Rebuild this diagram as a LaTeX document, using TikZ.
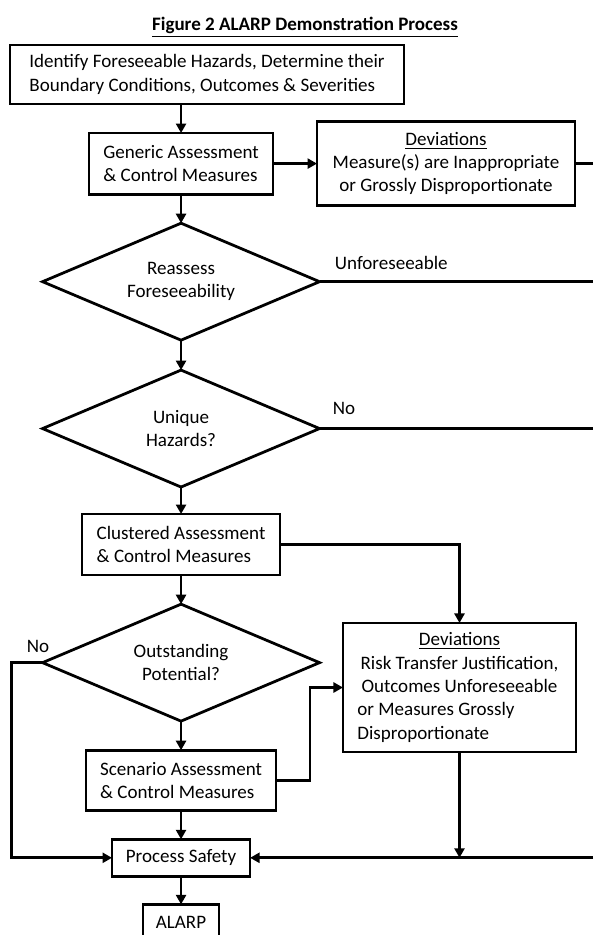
\documentclass[tikz,border=0pt]{standalone}
\usepackage{fontspec}
\setmainfont{Carlito}
\usetikzlibrary{positioning,shapes.geometric,arrows.meta}

\begin{document}
\begin{tikzpicture}[
        x=0.578pt, y=-0.578pt,
        font=\fontsize{11pt}{13.5pt}\selectfont,
        box/.style={rectangle, draw, line width=1.6pt, outer sep=0pt, align=left},
        decision/.style={diamond, aspect=2.4, draw, line width=1.6pt, outer sep=0pt, inner sep=0pt, align=center, minimum width=160.1pt, minimum height=67.6pt},
        arrow/.style={-{Triangle[length=5.5pt,width=5.8pt]}, line width=1.6pt},
        line/.style={line width=1.6pt},
        lbl/.style={inner sep=0pt}
    ]
        \useasboundingbox (0,0) rectangle (593,935);
        \coordinate (edge) at (593,0);

        \node (title) at (305,27) {\bfseries\underline{Figure 2 ALARP Demonstration Process}};

        \node[box, minimum width=227.7pt, minimum height=34.1pt] (identify) at (207,74.5) {Identify Foreseeable Hazards, Determine their\\Boundary Conditions, Outcomes \& Severities};
        \node[box, below=16.8pt of identify, xshift=-15pt, minimum width=106.4pt, minimum height=35.3pt] (generic) {Generic Assessment\\\& Control Measures};
        \node[box, align=center, right=25.4pt of generic, minimum width=149.1pt, minimum height=48.6pt] (devA) {\underline{Deviations}\\Measure(s) are Inappropriate\\or Grossly Disproportionate};
        \node[decision, below=16.8pt of generic] (reassess) {Reassess\\Foreseeability};
        \node[decision, below=17.3pt of reassess] (unique) {Unique\\Hazards?};
        \node[box, below=15.6pt of unique, minimum width=114.4pt, minimum height=35.3pt] (clustered) {Clustered Assessment\\\& Control Measures};
        \node[decision, below=16.8pt of clustered] (outstanding) {Outstanding\\Potential?};
        \node[box, below=16.8pt of outstanding, minimum width=109.8pt, minimum height=34.7pt] (scenario) {Scenario Assessment\\\& Control Measures};
        \node[box, align=center, below=16.8pt of scenario, minimum width=79.8pt, minimum height=21.4pt] (process) {Process Safety};
        \node[box, align=center, below=16.2pt of process, minimum width=43.9pt, minimum height=21.4pt] (alarp) {ALARP};
        \node[box, align=center, minimum width=134.7pt, minimum height=74.6pt] (devB) at (459.5,687.5) {\underline{Deviations}\\Risk Transfer Justification,\\Outcomes Unforeseeable\\\makebox[118pt][l]{or Measures Grossly}\\\makebox[118pt][l]{Disproportionate}};

        \node[lbl, anchor=south west] (unforeseen) at ([xshift=8.7pt, yshift=7pt]reassess.east) {Unforeseeable};
        \node[lbl, anchor=south west] (notunique) at ([xshift=7.5pt, yshift=8pt]unique.east) {No};
        \node[lbl, anchor=south east] (nopotential) at ([xshift=4pt, yshift=5.8pt]outstanding.west) {No};

        \draw[arrow] (identify.south -| generic.north) -- (generic.north);
        \draw[arrow] (generic.east) -- (devA.west);
        \draw[line] (devA.east) -- (devA.east -| edge);
        \draw[arrow] (generic.south) -- (reassess.north);
        \draw[line] (reassess.east) -- (reassess.east -| edge);
        \draw[arrow] (reassess.south) -- (unique.north);
        \draw[line] (unique.east) -- (unique.east -| edge);
        \draw[arrow] (unique.south) -- (clustered.north);
        \draw[arrow] (clustered.east) -| (devB.north);
        \draw[arrow] (clustered.south) -- (outstanding.north);
        \draw[arrow] (outstanding.south) -- (scenario.north);
        \draw[arrow] (scenario.east) -- ++(34,0) |- (devB.west);
        \draw[arrow] (scenario.south) -- (process.north);
        \draw[arrow] (outstanding.west) -- ++(-31,0) |- (process.west);
        \draw[arrow] (devB.south) -- (devB.south |- process.east);
        \draw[arrow] (process.east -| edge) -- (process.east);
        \draw[arrow] (process.south) -- (alarp.north);
    \end{tikzpicture}
\end{document}
